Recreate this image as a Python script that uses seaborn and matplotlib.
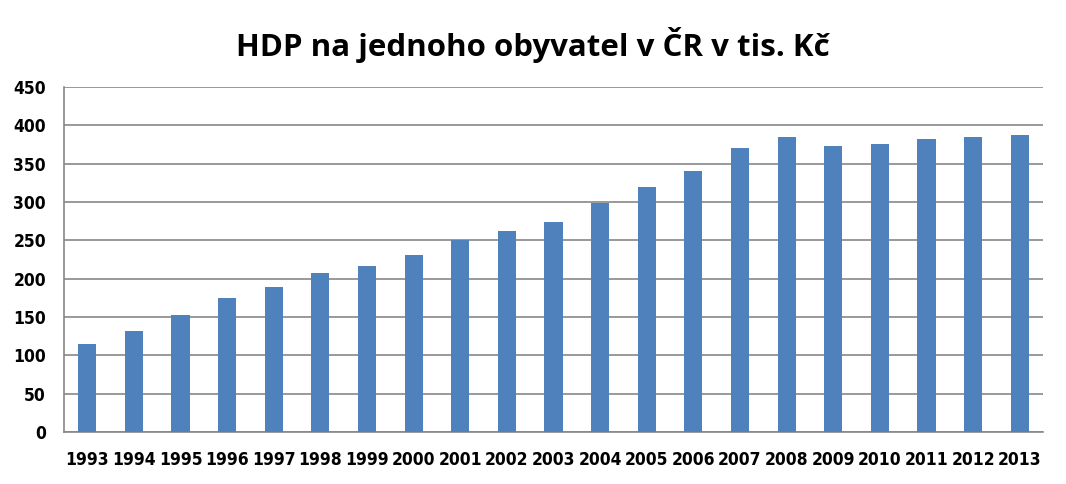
import matplotlib
matplotlib.use("Agg")
import matplotlib.pyplot as plt
import seaborn as sns
import pandas as pd

years = ["1993", "1994", "1995", "1996", "1997", "1998", "1999", "2000", "2001", "2002",
         "2003", "2004", "2005", "2006", "2007", "2008", "2009", "2010", "2011", "2012", "2013"]
values = [115, 132, 153, 175, 189, 208, 217, 231, 250, 262,
          274, 299, 319, 341, 371, 385, 373, 376, 382, 385, 388]
yticks = [0, 50, 100, 150, 200, 250, 300, 350, 400, 450]
title = "HDP na jednoho obyvatel v ČR v tis. Kč"

sns.set_theme(style="white")
plt.rcParams['font.family'] = ['DejaVu Sans']

df = pd.DataFrame({"rok": years, "hdp": values})

fig = plt.figure(figsize=(10.66, 4.84), dpi=100)
ax = fig.add_axes([64/1066, 1-432/484, (1043-64)/1066, (432-87)/484])

sns.barplot(data=df, x="rok", y="hdp", color="#4F81BD", saturation=1, width=0.39,
            linewidth=0, edgecolor="none", ax=ax, zorder=3)

ax.set_ylim(0, 450)
ax.set_yticks(yticks)
ax.set_xlim(-0.5, len(years) - 0.5)
ax.yaxis.grid(True, color="#878787", linewidth=1.2, zorder=0)
ax.set_axisbelow(True)
for s in ["top", "right"]:
    ax.spines[s].set_visible(False)
ax.spines["left"].set_color("#878787")
ax.spines["bottom"].set_color("#878787")
ax.spines["left"].set_linewidth(1.2)
ax.spines["bottom"].set_linewidth(1.2)
ax.set_xlabel("")
ax.set_ylabel("")
ax.tick_params(axis="both", length=0, labelsize=12.5, colors="black")
ax.tick_params(axis="y", pad=13)
ax.tick_params(axis="x", pad=14)
for lbl in ax.get_xticklabels() + ax.get_yticklabels():
    lbl.set_fontweight("bold")
    lbl.set_fontstretch("condensed")
    lbl.set_color("black")

fig.text(0.5, 1-45/484, title, ha="center", va="center", fontsize=22.5, fontweight="bold",
         color="black", fontfamily=["Open Sans", "DejaVu Sans"])

fig.savefig("out.png", dpi=100)
